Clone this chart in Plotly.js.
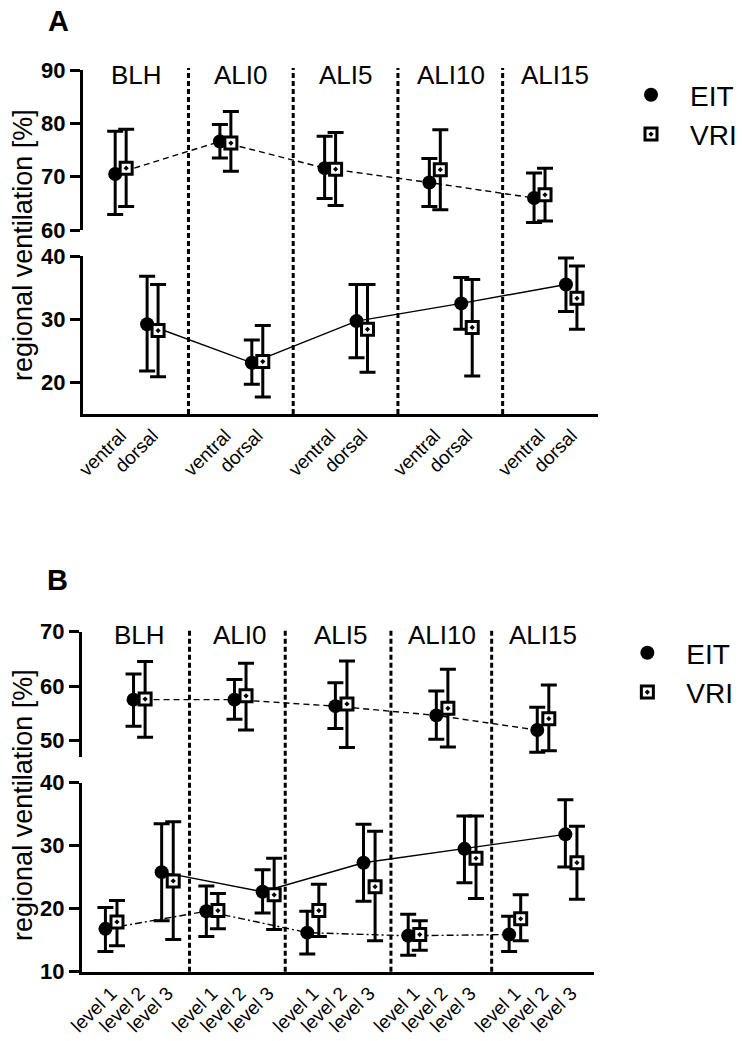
<!DOCTYPE html>
<html>
<head>
<meta charset="utf-8">
<script src="https://cdn.plot.ly/plotly-3.0.1.min.js"></script>
<style>html,body{margin:0;padding:0;background:#fff;}#chart{width:742px;height:1041px;}</style>
</head>
<body>
<div id="chart"></div>
<script>
// ---------------- DATA ----------------
const groups = ['BLH', 'ALI0', 'ALI5', 'ALI10', 'ALI15'];
const tickLabelsA = ['ventral', 'dorsal'];
const tickLabelsB = ['level 1', 'level 2', 'level 3'];
const seriesNames = ['EIT', 'VRI'];

// Panel A - ventral (upper segment)
const A_ventral_EIT_mean = [70.5, 76.6, 71.6, 68.9, 66.0];
const A_ventral_EIT_hi   = [78.5, 79.8, 77.6, 73.4, 70.7];
const A_ventral_EIT_lo   = [62.9, 73.5, 65.9, 64.4, 61.4];
const A_ventral_VRI_mean = [71.6, 76.3, 71.4, 71.3, 66.6];
const A_ventral_VRI_hi   = [78.9, 82.2, 78.3, 78.8, 71.6];
const A_ventral_VRI_lo   = [64.4, 71.0, 64.6, 63.8, 61.7];
// Panel A - dorsal (lower segment)
const A_dorsal_EIT_mean = [29.2, 23.1, 29.7, 32.5, 35.5];
const A_dorsal_EIT_hi   = [36.8, 26.7, 35.5, 36.6, 39.7];
const A_dorsal_EIT_lo   = [21.8, 19.7, 23.9, 28.4, 31.2];
const A_dorsal_VRI_mean = [28.2, 23.3, 28.4, 28.7, 33.3];
const A_dorsal_VRI_hi   = [35.5, 29.0, 35.5, 36.3, 38.4];
const A_dorsal_VRI_lo   = [20.9, 17.7, 21.6, 21.0, 28.4];

// Panel B - level 1 (lower segment)
const B_l1_EIT_mean = [16.8, 19.6, 16.2, 15.7, 15.9];
const B_l1_EIT_hi   = [20.2, 23.6, 19.6, 19.1, 18.8];
const B_l1_EIT_lo   = [13.2, 15.6, 12.8, 12.6, 13.2];
const B_l1_VRI_mean = [17.9, 19.7, 19.7, 15.9, 18.4];
const B_l1_VRI_hi   = [21.3, 22.4, 23.9, 18.1, 22.2];
const B_l1_VRI_lo   = [14.1, 16.8, 15.6, 13.4, 14.9];
// Panel B - level 2 (upper segment)
const B_l2_EIT_mean = [57.5, 57.5, 56.3, 54.6, 51.9];
const B_l2_EIT_hi   = [62.2, 61.2, 60.6, 59.1, 56.1];
const B_l2_EIT_lo   = [52.6, 53.9, 52.2, 50.2, 47.8];
const B_l2_VRI_mean = [57.6, 58.2, 56.7, 55.9, 54.0];
const B_l2_VRI_hi   = [64.5, 64.2, 64.6, 63.1, 60.2];
const B_l2_VRI_lo   = [50.6, 51.9, 48.7, 48.8, 48.1];
// Panel B - level 3 (lower segment)
const B_l3_EIT_mean = [25.8, 22.7, 27.3, 29.5, 31.8];
const B_l3_EIT_hi   = [33.5, 26.2, 33.4, 34.7, 37.3];
const B_l3_EIT_lo   = [18.1, 19.3, 21.2, 24.1, 26.6];
const B_l3_VRI_mean = [24.4, 22.2, 23.5, 28.0, 27.3];
const B_l3_VRI_hi   = [33.8, 28.0, 32.3, 34.7, 33.1];
const B_l3_VRI_lo   = [15.1, 16.7, 14.9, 21.6, 21.5];

// y tick values
const yTicksAUpper = [60, 70, 80, 90];
const yTicksALower = [20, 30, 40];
const yTicksBUpper = [50, 60, 70];
const yTicksBLower = [10, 20, 30, 40];

// ---------------- LAYOUT CONSTANTS ----------------
const W = 742, H = 1041;
const fx = p => p / W;
const fy = p => 1 - p / H;
const FONT = 'Arial, "Liberation Sans", Helvetica, sans-serif';

// Panel A geometry (pixels)
const A = {axL: 83, axR: 600, upTop: 70, upBot: 230, loTop: 256, axisY: 414,
           first: 38, group: 105, cat: 32, off: 5.5, seps: [189, 294, 399, 504], labelY: 75};
// Panel B geometry (pixels)
const B = {axL: 82, axR: 596, upTop: 631.7, upBot: 756.7, loTop: 782.7, axisY: 971.7,
           first: 29.5, group: 101.2, cat: 28.2, off: 5.8, seps: [190, 286, 392, 493], labelY: 635};

const posA = (g, k, s) => A.first + g * A.group + k * A.cat + (s === 0 ? -A.off : A.off);
const posB = (g, k, s) => B.first + g * B.group + k * B.cat + (s === 0 ? -B.off : B.off);
const ctrA = (g, k) => A.first + g * A.group + k * A.cat;
const ctrB = (g, k) => B.first + g * B.group + k * B.cat;

const errStyle = {type: 'data', symmetric: false, color: '#000', thickness: 3, width: 8};

function errBars(mean, hi, lo) {
  return Object.assign({}, errStyle, {
    array: hi.map((h, i) => +(h - mean[i]).toFixed(2)),
    arrayminus: lo.map((l, i) => +(mean[i] - l).toFixed(2))
  });
}

const eitMarker = {symbol: 'circle', size: 14, color: '#000', line: {width: 0}};
const vriMarker = {symbol: 'square-dot', size: 12, color: '#fff', line: {color: '#000', width: 3}};

function pointTrace(xf, k, s, mean, hi, lo, xa, ya, legendName, showleg) {
  return {
    type: 'scatter', mode: 'markers',
    x: groups.map((_, g) => xf(g, k, s)), y: mean,
    xaxis: xa, yaxis: ya,
    error_y: errBars(mean, hi, lo),
    marker: s === 0 ? eitMarker : vriMarker,
    name: seriesNames[s], showlegend: showleg, legend: legendName,
    legendgroup: legendName + seriesNames[s],
    cliponaxis: false, hoverinfo: 'y'
  };
}
function lineTrace(xf, k, mean, xa, ya, dash) {
  return {
    type: 'scatter', mode: 'lines',
    x: groups.map((_, g) => xf(g, k, 0)), y: mean,
    xaxis: xa, yaxis: ya,
    line: {color: '#000', width: 1.4, dash: dash},
    showlegend: false, hoverinfo: 'skip', cliponaxis: false
  };
}

const traces = [
  lineTrace(posA, 0, A_ventral_EIT_mean, 'x', 'y2', '6px,4px'),
  lineTrace(posA, 1, A_dorsal_EIT_mean, 'x', 'y', 'solid'),
  pointTrace(posA, 0, 0, A_ventral_EIT_mean, A_ventral_EIT_hi, A_ventral_EIT_lo, 'x', 'y2', 'legend', true),
  pointTrace(posA, 1, 0, A_dorsal_EIT_mean, A_dorsal_EIT_hi, A_dorsal_EIT_lo, 'x', 'y', 'legend', false),
  pointTrace(posA, 0, 1, A_ventral_VRI_mean, A_ventral_VRI_hi, A_ventral_VRI_lo, 'x', 'y2', 'legend', true),
  pointTrace(posA, 1, 1, A_dorsal_VRI_mean, A_dorsal_VRI_hi, A_dorsal_VRI_lo, 'x', 'y', 'legend', false),
  lineTrace(posB, 1, B_l2_EIT_mean, 'x2', 'y4', '6px,4px'),
  lineTrace(posB, 0, B_l1_EIT_mean, 'x2', 'y3', '7px,3px,2px,3px'),
  lineTrace(posB, 2, B_l3_EIT_mean, 'x2', 'y3', 'solid'),
  pointTrace(posB, 1, 0, B_l2_EIT_mean, B_l2_EIT_hi, B_l2_EIT_lo, 'x2', 'y4', 'legend2', true),
  pointTrace(posB, 0, 0, B_l1_EIT_mean, B_l1_EIT_hi, B_l1_EIT_lo, 'x2', 'y3', 'legend2', false),
  pointTrace(posB, 2, 0, B_l3_EIT_mean, B_l3_EIT_hi, B_l3_EIT_lo, 'x2', 'y3', 'legend2', false),
  pointTrace(posB, 1, 1, B_l2_VRI_mean, B_l2_VRI_hi, B_l2_VRI_lo, 'x2', 'y4', 'legend2', true),
  pointTrace(posB, 0, 1, B_l1_VRI_mean, B_l1_VRI_hi, B_l1_VRI_lo, 'x2', 'y3', 'legend2', false),
  pointTrace(posB, 2, 1, B_l3_VRI_mean, B_l3_VRI_hi, B_l3_VRI_lo, 'x2', 'y3', 'legend2', false)
];

const tickValsA = [], tickTextA = [];
groups.forEach((_, g) => tickLabelsA.forEach((t, k) => { tickValsA.push(ctrA(g, k)); tickTextA.push(t); }));
const tickValsB = [], tickTextB = [];
groups.forEach((_, g) => tickLabelsB.forEach((t, k) => { tickValsB.push(ctrB(g, k)); tickTextB.push(t); }));

const yTickFont = {family: FONT, size: 22, color: '#000'};
const xTickFont = {family: FONT, size: 19, color: '#000'};

function yAxis(domain, range, tickvals, anchor) {
  return {domain: domain, range: range, tickvals: tickvals, ticktext: tickvals.map(v => '<b>' + v + '</b>'),
          anchor: anchor, showline: true, linewidth: 3, linecolor: '#000', ticks: 'outside', ticklen: 10, tickwidth: 3,
          tickcolor: '#000', showgrid: false, zeroline: false, tickfont: yTickFont, fixedrange: true};
}
function xAxis(domain, range, tickvals, ticktext, anchor) {
  return {domain: domain, range: range, tickvals: tickvals, ticktext: ticktext, anchor: anchor,
          tickangle: -45, showline: true, linewidth: 3, linecolor: '#000', ticks: '',
          showgrid: false, zeroline: false, tickfont: xTickFont, fixedrange: true};
}

const shapes = [];
A.seps.forEach(p => shapes.push({type: 'line', xref: 'paper', yref: 'paper', x0: fx(p), x1: fx(p),
  y0: fy(A.axisY), y1: fy(A.upTop - 2), line: {color: '#000', width: 3, dash: '5px,3px'}, layer: 'below'}));
B.seps.forEach(p => shapes.push({type: 'line', xref: 'paper', yref: 'paper', x0: fx(p), x1: fx(p),
  y0: fy(B.axisY), y1: fy(B.upTop - 2), line: {color: '#000', width: 3, dash: '5px,3px'}, layer: 'below'}));

const annotations = [];
groups.forEach((name, g) => {
  annotations.push({text: name, xref: 'x', yref: 'paper', x: (ctrA(g, 0) + ctrA(g, 1)) / 2, y: fy(A.labelY),
    xanchor: 'center', yanchor: 'middle', showarrow: false, font: {family: FONT, size: 26, color: '#000'}});
  annotations.push({text: name, xref: 'x2', yref: 'paper', x: ctrB(g, 1), y: fy(B.labelY),
    xanchor: 'center', yanchor: 'middle', showarrow: false, font: {family: FONT, size: 26, color: '#000'}});
});
annotations.push({text: '<b>A</b>', xref: 'paper', yref: 'paper', x: fx(59), y: fy(21), xanchor: 'center', yanchor: 'middle',
  showarrow: false, font: {family: FONT, size: 29, color: '#000'}});
annotations.push({text: '<b>B</b>', xref: 'paper', yref: 'paper', x: fx(58), y: fy(580), xanchor: 'center', yanchor: 'middle',
  showarrow: false, font: {family: FONT, size: 29, color: '#000'}});
annotations.push({text: 'regional ventilation [%]', xref: 'paper', yref: 'paper', x: fx(23), y: fy(245), textangle: -90,
  xanchor: 'center', yanchor: 'middle', showarrow: false, font: {family: FONT, size: 27, color: '#000'}});
annotations.push({text: 'regional ventilation [%]', xref: 'paper', yref: 'paper', x: fx(23), y: fy(805), textangle: -90,
  xanchor: 'center', yanchor: 'middle', showarrow: false, font: {family: FONT, size: 27, color: '#000'}});

const legendStyle = {xanchor: 'left', yanchor: 'top', bgcolor: 'rgba(0,0,0,0)', borderwidth: 0,
  font: {family: FONT, size: 28, color: '#000'}, itemwidth: 68, tracegroupgap: 0, traceorder: 'grouped'};

const layout = {
  width: W, height: H, margin: {l: 0, r: 0, t: 0, b: 0},
  paper_bgcolor: '#fff', plot_bgcolor: 'rgba(0,0,0,0)',
  font: {family: FONT, color: '#000'},
  showlegend: true,
  legend: Object.assign({}, legendStyle, {x: fx(614), y: fy(70)}),
  legend2: Object.assign({}, legendStyle, {x: fx(610), y: fy(628)}),
  xaxis: xAxis([fx(A.axL), fx(A.axR)], [0, A.axR - A.axL], tickValsA, tickTextA, 'y'),
  yaxis: yAxis([fy(A.axisY), fy(A.loTop)], [15, 40], yTicksALower, 'x'),
  yaxis2: yAxis([fy(A.upBot), fy(A.upTop)], [60, 90], yTicksAUpper, 'x'),
  xaxis2: xAxis([fx(B.axL), fx(B.axR)], [0, B.axR - B.axL], tickValsB, tickTextB, 'y3'),
  yaxis3: yAxis([fy(B.axisY), fy(B.loTop)], [10, 40], yTicksBLower, 'x2'),
  yaxis4: yAxis([fy(B.upBot), fy(B.upTop)], [47, 70], yTicksBUpper, 'x2'),
  shapes: shapes,
  annotations: annotations
};

Plotly.newPlot('chart', traces, layout, {displayModeBar: false, staticPlot: true});
</script>
</body>
</html>
